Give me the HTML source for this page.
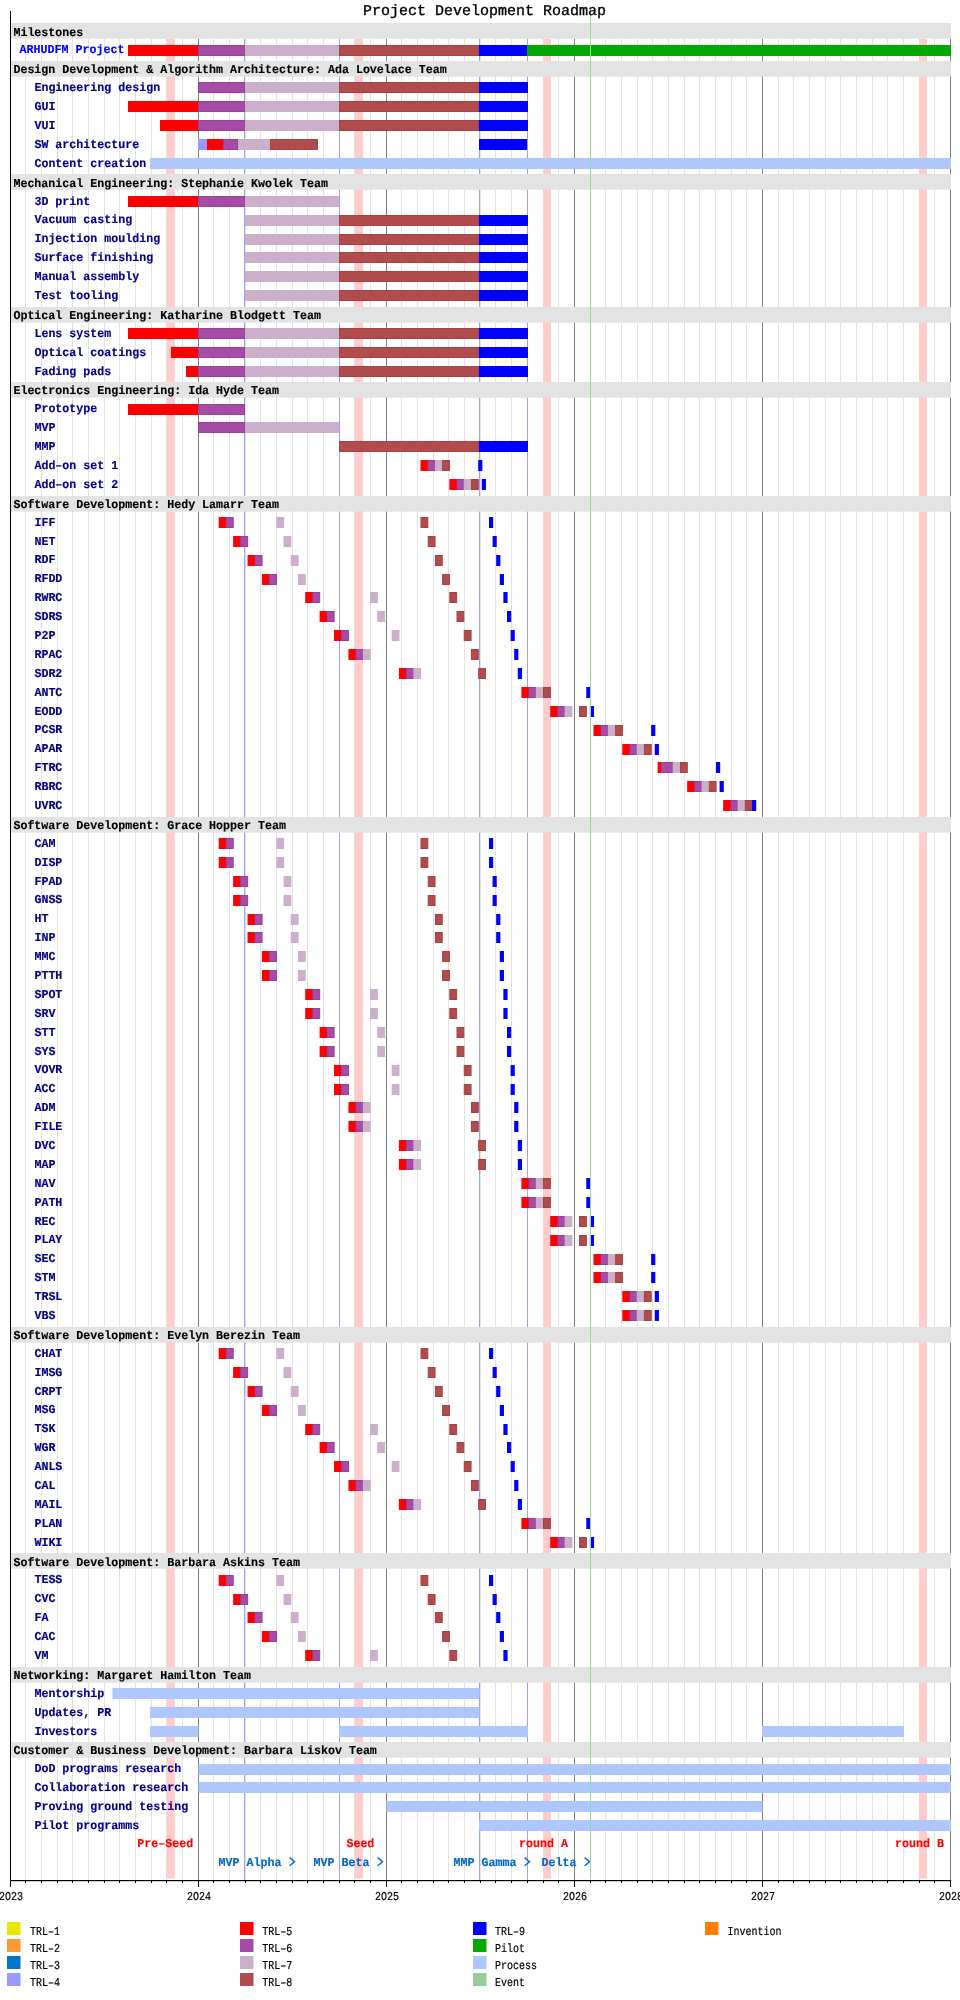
<!DOCTYPE html><html><head><meta charset="utf-8"><style>html,body{margin:0;padding:0;background:#fff;width:960px;height:2000px;overflow:hidden}svg{display:block;will-change:transform;text-rendering:geometricPrecision}text{font-family:"Liberation Mono",monospace}</style></head><body>
<svg width="960" height="2000" viewBox="0 0 960 2000">
<rect x="0" y="0" width="960" height="2000" fill="#fff"/>
<rect x="25" y="38.70" width="1" height="1841.30" fill="#e2e2e2"/><rect x="41" y="38.70" width="1" height="1841.30" fill="#e2e2e2"/><rect x="57" y="38.70" width="1" height="1841.30" fill="#e2e2e2"/><rect x="72" y="38.70" width="1" height="1841.30" fill="#e2e2e2"/><rect x="88" y="38.70" width="1" height="1841.30" fill="#e2e2e2"/><rect x="104" y="38.70" width="1" height="1841.30" fill="#e2e2e2"/><rect x="119" y="38.70" width="1" height="1841.30" fill="#e2e2e2"/><rect x="135" y="38.70" width="1" height="1841.30" fill="#e2e2e2"/><rect x="151" y="38.70" width="1" height="1841.30" fill="#e2e2e2"/><rect x="166" y="38.70" width="1" height="1841.30" fill="#e2e2e2"/><rect x="182" y="38.70" width="1" height="1841.30" fill="#e2e2e2"/><rect x="213" y="38.70" width="1" height="1841.30" fill="#e2e2e2"/><rect x="229" y="38.70" width="1" height="1841.30" fill="#e2e2e2"/><rect x="245" y="38.70" width="1" height="1841.30" fill="#e2e2e2"/><rect x="260" y="38.70" width="1" height="1841.30" fill="#e2e2e2"/><rect x="276" y="38.70" width="1" height="1841.30" fill="#e2e2e2"/><rect x="292" y="38.70" width="1" height="1841.30" fill="#e2e2e2"/><rect x="307" y="38.70" width="1" height="1841.30" fill="#e2e2e2"/><rect x="323" y="38.70" width="1" height="1841.30" fill="#e2e2e2"/><rect x="339" y="38.70" width="1" height="1841.30" fill="#e2e2e2"/><rect x="354" y="38.70" width="1" height="1841.30" fill="#e2e2e2"/><rect x="370" y="38.70" width="1" height="1841.30" fill="#e2e2e2"/><rect x="401" y="38.70" width="1" height="1841.30" fill="#e2e2e2"/><rect x="417" y="38.70" width="1" height="1841.30" fill="#e2e2e2"/><rect x="433" y="38.70" width="1" height="1841.30" fill="#e2e2e2"/><rect x="448" y="38.70" width="1" height="1841.30" fill="#e2e2e2"/><rect x="464" y="38.70" width="1" height="1841.30" fill="#e2e2e2"/><rect x="480" y="38.70" width="1" height="1841.30" fill="#e2e2e2"/><rect x="495" y="38.70" width="1" height="1841.30" fill="#e2e2e2"/><rect x="511" y="38.70" width="1" height="1841.30" fill="#e2e2e2"/><rect x="527" y="38.70" width="1" height="1841.30" fill="#e2e2e2"/><rect x="543" y="38.70" width="1" height="1841.30" fill="#e2e2e2"/><rect x="558" y="38.70" width="1" height="1841.30" fill="#e2e2e2"/><rect x="590" y="38.70" width="1" height="1841.30" fill="#e2e2e2"/><rect x="605" y="38.70" width="1" height="1841.30" fill="#e2e2e2"/><rect x="621" y="38.70" width="1" height="1841.30" fill="#e2e2e2"/><rect x="637" y="38.70" width="1" height="1841.30" fill="#e2e2e2"/><rect x="652" y="38.70" width="1" height="1841.30" fill="#e2e2e2"/><rect x="668" y="38.70" width="1" height="1841.30" fill="#e2e2e2"/><rect x="684" y="38.70" width="1" height="1841.30" fill="#e2e2e2"/><rect x="699" y="38.70" width="1" height="1841.30" fill="#e2e2e2"/><rect x="715" y="38.70" width="1" height="1841.30" fill="#e2e2e2"/><rect x="731" y="38.70" width="1" height="1841.30" fill="#e2e2e2"/><rect x="746" y="38.70" width="1" height="1841.30" fill="#e2e2e2"/><rect x="778" y="38.70" width="1" height="1841.30" fill="#e2e2e2"/><rect x="793" y="38.70" width="1" height="1841.30" fill="#e2e2e2"/><rect x="809" y="38.70" width="1" height="1841.30" fill="#e2e2e2"/><rect x="825" y="38.70" width="1" height="1841.30" fill="#e2e2e2"/><rect x="840" y="38.70" width="1" height="1841.30" fill="#e2e2e2"/><rect x="856" y="38.70" width="1" height="1841.30" fill="#e2e2e2"/><rect x="872" y="38.70" width="1" height="1841.30" fill="#e2e2e2"/><rect x="887" y="38.70" width="1" height="1841.30" fill="#e2e2e2"/><rect x="903" y="38.70" width="1" height="1841.30" fill="#e2e2e2"/><rect x="919" y="38.70" width="1" height="1841.30" fill="#e2e2e2"/><rect x="934" y="38.70" width="1" height="1841.30" fill="#e2e2e2"/>
<rect x="167" y="38.70" width="7.800000000000011" height="1839.80" fill="#ffcccc"/>
<rect x="355" y="38.70" width="8" height="1839.80" fill="#ffcccc"/>
<rect x="543.2" y="38.70" width="7.7999999999999545" height="1839.80" fill="#ffcccc"/>
<rect x="919" y="38.70" width="8" height="1839.80" fill="#ffcccc"/>
<rect x="198" y="38.70" width="1" height="1841.30" fill="#808080"/>
<rect x="386" y="38.70" width="1" height="1841.30" fill="#808080"/>
<rect x="574" y="38.70" width="1" height="1841.30" fill="#808080"/>
<rect x="762" y="38.70" width="1" height="1841.30" fill="#808080"/>
<rect x="950" y="38.70" width="1" height="1841.30" fill="#808080"/>
<rect x="950" y="38.70" width="1" height="1841.30" fill="#808080"/>
<rect x="244" y="38.70" width="1" height="1841.30" fill="#9e9eff"/>
<rect x="339" y="38.70" width="1" height="1841.30" fill="#9e9eff"/>
<rect x="479" y="38.70" width="1" height="1841.30" fill="#9e9eff"/>
<rect x="527" y="38.70" width="1" height="1841.30" fill="#9e9eff"/>
<rect x="11" y="23" width="940" height="15.7" fill="#e3e3e3"/>
<rect x="11" y="61" width="940" height="15.7" fill="#e3e3e3"/>
<rect x="11" y="174" width="940" height="15.7" fill="#e3e3e3"/>
<rect x="11" y="307" width="940" height="15.7" fill="#e3e3e3"/>
<rect x="11" y="382" width="940" height="15.7" fill="#e3e3e3"/>
<rect x="11" y="496" width="940" height="15.7" fill="#e3e3e3"/>
<rect x="11" y="817" width="940" height="15.7" fill="#e3e3e3"/>
<rect x="11" y="1327" width="940" height="15.7" fill="#e3e3e3"/>
<rect x="11" y="1553" width="940" height="15.7" fill="#e3e3e3"/>
<rect x="11" y="1667" width="940" height="15.7" fill="#e3e3e3"/>
<rect x="11" y="1742" width="940" height="15.7" fill="#e3e3e3"/>
<rect x="128.00" y="45" width="70.00" height="11" fill="#ff0000"/>
<rect x="198.50" y="45.5" width="46.00" height="10" fill="#a64ca6" stroke="#9a3f9a" stroke-width="1"/>
<rect x="245.00" y="45" width="94.00" height="11" fill="#cbafcb"/>
<rect x="339.50" y="45.5" width="139.00" height="10" fill="#b04c4c" stroke="#a84242" stroke-width="1"/>
<rect x="479.00" y="45" width="48.00" height="11" fill="#0000ff"/>
<rect x="527.00" y="45" width="424.00" height="11" fill="#00aa00"/>
<rect x="198.50" y="82.5" width="46.00" height="10" fill="#a64ca6" stroke="#9a3f9a" stroke-width="1"/>
<rect x="245.00" y="82" width="94.00" height="11" fill="#cbafcb"/>
<rect x="339.50" y="82.5" width="139.00" height="10" fill="#b04c4c" stroke="#a84242" stroke-width="1"/>
<rect x="479.00" y="82" width="49.00" height="11" fill="#0000ff"/>
<rect x="128.00" y="101" width="70.00" height="11" fill="#ff0000"/>
<rect x="198.50" y="101.5" width="46.00" height="10" fill="#a64ca6" stroke="#9a3f9a" stroke-width="1"/>
<rect x="245.00" y="101" width="94.00" height="11" fill="#cbafcb"/>
<rect x="339.50" y="101.5" width="139.00" height="10" fill="#b04c4c" stroke="#a84242" stroke-width="1"/>
<rect x="479.00" y="101" width="49.00" height="11" fill="#0000ff"/>
<rect x="160.00" y="120" width="38.00" height="11" fill="#ff0000"/>
<rect x="198.50" y="120.5" width="46.00" height="10" fill="#a64ca6" stroke="#9a3f9a" stroke-width="1"/>
<rect x="245.00" y="120" width="94.00" height="11" fill="#cbafcb"/>
<rect x="339.50" y="120.5" width="139.00" height="10" fill="#b04c4c" stroke="#a84242" stroke-width="1"/>
<rect x="479.00" y="120" width="49.00" height="11" fill="#0000ff"/>
<rect x="198.00" y="139" width="9.00" height="11" fill="#9999ff"/>
<rect x="207.00" y="139" width="16.00" height="11" fill="#ff0000"/>
<rect x="223.50" y="139.5" width="14.00" height="10" fill="#a64ca6" stroke="#9a3f9a" stroke-width="1"/>
<rect x="238.00" y="139" width="32.00" height="11" fill="#cbafcb"/>
<rect x="270.50" y="139.5" width="47.00" height="10" fill="#b04c4c" stroke="#a84242" stroke-width="1"/>
<rect x="479.00" y="139" width="48.00" height="11" fill="#0000ff"/>
<rect x="150.00" y="158" width="801.00" height="11" fill="#aec8ff"/>
<rect x="128.00" y="196" width="70.00" height="11" fill="#ff0000"/>
<rect x="198.50" y="196.5" width="46.00" height="10" fill="#a64ca6" stroke="#9a3f9a" stroke-width="1"/>
<rect x="245.00" y="196" width="94.00" height="11" fill="#cbafcb"/>
<rect x="245.00" y="215" width="94.00" height="11" fill="#cbafcb"/>
<rect x="339.50" y="215.5" width="139.00" height="10" fill="#b04c4c" stroke="#a84242" stroke-width="1"/>
<rect x="479.00" y="215" width="49.00" height="11" fill="#0000ff"/>
<rect x="245.00" y="234" width="94.00" height="11" fill="#cbafcb"/>
<rect x="339.50" y="234.5" width="139.00" height="10" fill="#b04c4c" stroke="#a84242" stroke-width="1"/>
<rect x="479.00" y="234" width="49.00" height="11" fill="#0000ff"/>
<rect x="245.00" y="252" width="94.00" height="11" fill="#cbafcb"/>
<rect x="339.50" y="252.5" width="139.00" height="10" fill="#b04c4c" stroke="#a84242" stroke-width="1"/>
<rect x="479.00" y="252" width="49.00" height="11" fill="#0000ff"/>
<rect x="245.00" y="271" width="94.00" height="11" fill="#cbafcb"/>
<rect x="339.50" y="271.5" width="139.00" height="10" fill="#b04c4c" stroke="#a84242" stroke-width="1"/>
<rect x="479.00" y="271" width="49.00" height="11" fill="#0000ff"/>
<rect x="245.00" y="290" width="94.00" height="11" fill="#cbafcb"/>
<rect x="339.50" y="290.5" width="139.00" height="10" fill="#b04c4c" stroke="#a84242" stroke-width="1"/>
<rect x="479.00" y="290" width="49.00" height="11" fill="#0000ff"/>
<rect x="128.00" y="328" width="70.00" height="11" fill="#ff0000"/>
<rect x="198.50" y="328.5" width="46.00" height="10" fill="#a64ca6" stroke="#9a3f9a" stroke-width="1"/>
<rect x="245.00" y="328" width="94.00" height="11" fill="#cbafcb"/>
<rect x="339.50" y="328.5" width="139.00" height="10" fill="#b04c4c" stroke="#a84242" stroke-width="1"/>
<rect x="479.00" y="328" width="49.00" height="11" fill="#0000ff"/>
<rect x="171.00" y="347" width="27.00" height="11" fill="#ff0000"/>
<rect x="198.50" y="347.5" width="46.00" height="10" fill="#a64ca6" stroke="#9a3f9a" stroke-width="1"/>
<rect x="245.00" y="347" width="94.00" height="11" fill="#cbafcb"/>
<rect x="339.50" y="347.5" width="139.00" height="10" fill="#b04c4c" stroke="#a84242" stroke-width="1"/>
<rect x="479.00" y="347" width="49.00" height="11" fill="#0000ff"/>
<rect x="186.00" y="366" width="12.00" height="11" fill="#ff0000"/>
<rect x="198.50" y="366.5" width="46.00" height="10" fill="#a64ca6" stroke="#9a3f9a" stroke-width="1"/>
<rect x="245.00" y="366" width="94.00" height="11" fill="#cbafcb"/>
<rect x="339.50" y="366.5" width="139.00" height="10" fill="#b04c4c" stroke="#a84242" stroke-width="1"/>
<rect x="479.00" y="366" width="49.00" height="11" fill="#0000ff"/>
<rect x="128.00" y="404" width="70.00" height="11" fill="#ff0000"/>
<rect x="198.50" y="404.5" width="46.00" height="10" fill="#a64ca6" stroke="#9a3f9a" stroke-width="1"/>
<rect x="198.50" y="422.5" width="46.00" height="10" fill="#a64ca6" stroke="#9a3f9a" stroke-width="1"/>
<rect x="245.00" y="422" width="94.00" height="11" fill="#cbafcb"/>
<rect x="339.50" y="441.5" width="139.00" height="10" fill="#b04c4c" stroke="#a84242" stroke-width="1"/>
<rect x="479.00" y="441" width="49.00" height="11" fill="#0000ff"/>
<rect x="420.50" y="460" width="7.81" height="11" fill="#ff0000"/>
<rect x="428.21" y="460.5" width="6.81" height="10" fill="#a64ca6" stroke="#9a3f9a" stroke-width="1"/>
<rect x="434.91" y="460" width="7.81" height="11" fill="#cbafcb"/>
<rect x="442.62" y="460.5" width="6.81" height="10" fill="#b04c4c" stroke="#a84242" stroke-width="1"/>
<rect x="478.16" y="460" width="4.20" height="11" fill="#0000ff"/>
<rect x="449.33" y="479" width="7.81" height="11" fill="#ff0000"/>
<rect x="457.03" y="479.5" width="6.81" height="10" fill="#a64ca6" stroke="#9a3f9a" stroke-width="1"/>
<rect x="463.74" y="479" width="7.81" height="11" fill="#cbafcb"/>
<rect x="471.45" y="479.5" width="6.81" height="10" fill="#b04c4c" stroke="#a84242" stroke-width="1"/>
<rect x="481.76" y="479" width="4.20" height="11" fill="#0000ff"/>
<rect x="112.50" y="1688" width="367.00" height="11" fill="#aec8ff"/>
<rect x="150.00" y="1707" width="329.50" height="11" fill="#aec8ff"/>
<rect x="150.00" y="1726" width="48.50" height="11" fill="#aec8ff"/>
<rect x="339.00" y="1726" width="189.00" height="11" fill="#aec8ff"/>
<rect x="762.00" y="1726" width="142.00" height="11" fill="#aec8ff"/>
<rect x="198.50" y="1764" width="752.50" height="11" fill="#aec8ff"/>
<rect x="198.50" y="1782" width="752.50" height="11" fill="#aec8ff"/>
<rect x="386.50" y="1801" width="376.00" height="11" fill="#aec8ff"/>
<rect x="479.00" y="1820" width="472.00" height="11" fill="#aec8ff"/>
<rect x="218.70" y="517" width="7.81" height="11" fill="#ff0000"/>
<rect x="226.41" y="517.5" width="6.81" height="10" fill="#a64ca6" stroke="#9a3f9a" stroke-width="1"/>
<rect x="276.36" y="517" width="7.81" height="11" fill="#cbafcb"/>
<rect x="421.00" y="517.5" width="6.81" height="10" fill="#b04c4c" stroke="#a84242" stroke-width="1"/>
<rect x="488.97" y="517" width="4.20" height="11" fill="#0000ff"/>
<rect x="233.12" y="536" width="7.81" height="11" fill="#ff0000"/>
<rect x="240.82" y="536.5" width="6.81" height="10" fill="#a64ca6" stroke="#9a3f9a" stroke-width="1"/>
<rect x="283.57" y="536" width="7.81" height="11" fill="#cbafcb"/>
<rect x="428.21" y="536.5" width="6.81" height="10" fill="#b04c4c" stroke="#a84242" stroke-width="1"/>
<rect x="492.57" y="536" width="4.20" height="11" fill="#0000ff"/>
<rect x="247.53" y="555" width="7.81" height="11" fill="#ff0000"/>
<rect x="255.24" y="555.5" width="6.81" height="10" fill="#a64ca6" stroke="#9a3f9a" stroke-width="1"/>
<rect x="290.77" y="555" width="7.81" height="11" fill="#cbafcb"/>
<rect x="435.41" y="555.5" width="6.81" height="10" fill="#b04c4c" stroke="#a84242" stroke-width="1"/>
<rect x="496.17" y="555" width="4.20" height="11" fill="#0000ff"/>
<rect x="261.95" y="574" width="7.81" height="11" fill="#ff0000"/>
<rect x="269.65" y="574.5" width="6.81" height="10" fill="#a64ca6" stroke="#9a3f9a" stroke-width="1"/>
<rect x="297.98" y="574" width="7.81" height="11" fill="#cbafcb"/>
<rect x="442.62" y="574.5" width="6.81" height="10" fill="#b04c4c" stroke="#a84242" stroke-width="1"/>
<rect x="499.78" y="574" width="4.20" height="11" fill="#0000ff"/>
<rect x="305.19" y="592" width="7.81" height="11" fill="#ff0000"/>
<rect x="312.89" y="592.5" width="6.81" height="10" fill="#a64ca6" stroke="#9a3f9a" stroke-width="1"/>
<rect x="370.05" y="592" width="7.81" height="11" fill="#cbafcb"/>
<rect x="449.83" y="592.5" width="6.81" height="10" fill="#b04c4c" stroke="#a84242" stroke-width="1"/>
<rect x="503.38" y="592" width="4.20" height="11" fill="#0000ff"/>
<rect x="319.60" y="611" width="7.81" height="11" fill="#ff0000"/>
<rect x="327.31" y="611.5" width="6.81" height="10" fill="#a64ca6" stroke="#9a3f9a" stroke-width="1"/>
<rect x="377.26" y="611" width="7.81" height="11" fill="#cbafcb"/>
<rect x="457.03" y="611.5" width="6.81" height="10" fill="#b04c4c" stroke="#a84242" stroke-width="1"/>
<rect x="506.98" y="611" width="4.20" height="11" fill="#0000ff"/>
<rect x="334.02" y="630" width="7.81" height="11" fill="#ff0000"/>
<rect x="341.72" y="630.5" width="6.81" height="10" fill="#a64ca6" stroke="#9a3f9a" stroke-width="1"/>
<rect x="391.67" y="630" width="7.81" height="11" fill="#cbafcb"/>
<rect x="464.24" y="630.5" width="6.81" height="10" fill="#b04c4c" stroke="#a84242" stroke-width="1"/>
<rect x="510.59" y="630" width="4.20" height="11" fill="#0000ff"/>
<rect x="348.43" y="649" width="7.81" height="11" fill="#ff0000"/>
<rect x="356.14" y="649.5" width="6.81" height="10" fill="#a64ca6" stroke="#9a3f9a" stroke-width="1"/>
<rect x="362.84" y="649" width="7.81" height="11" fill="#cbafcb"/>
<rect x="471.45" y="649.5" width="6.81" height="10" fill="#b04c4c" stroke="#a84242" stroke-width="1"/>
<rect x="514.19" y="649" width="4.20" height="11" fill="#0000ff"/>
<rect x="398.88" y="668" width="7.81" height="11" fill="#ff0000"/>
<rect x="406.59" y="668.5" width="6.81" height="10" fill="#a64ca6" stroke="#9a3f9a" stroke-width="1"/>
<rect x="413.29" y="668" width="7.81" height="11" fill="#cbafcb"/>
<rect x="478.66" y="668.5" width="6.81" height="10" fill="#b04c4c" stroke="#a84242" stroke-width="1"/>
<rect x="517.79" y="668" width="4.20" height="11" fill="#0000ff"/>
<rect x="521.40" y="687" width="7.81" height="11" fill="#ff0000"/>
<rect x="529.10" y="687.5" width="6.81" height="10" fill="#a64ca6" stroke="#9a3f9a" stroke-width="1"/>
<rect x="535.81" y="687" width="7.81" height="11" fill="#cbafcb"/>
<rect x="543.52" y="687.5" width="6.81" height="10" fill="#b04c4c" stroke="#a84242" stroke-width="1"/>
<rect x="586.26" y="687" width="4.20" height="11" fill="#0000ff"/>
<rect x="550.23" y="706" width="7.81" height="11" fill="#ff0000"/>
<rect x="557.93" y="706.5" width="6.81" height="10" fill="#a64ca6" stroke="#9a3f9a" stroke-width="1"/>
<rect x="564.64" y="706" width="7.81" height="11" fill="#cbafcb"/>
<rect x="579.55" y="706.5" width="6.81" height="10" fill="#b04c4c" stroke="#a84242" stroke-width="1"/>
<rect x="589.86" y="706" width="4.20" height="11" fill="#0000ff"/>
<rect x="593.47" y="725" width="7.81" height="11" fill="#ff0000"/>
<rect x="601.17" y="725.5" width="6.81" height="10" fill="#a64ca6" stroke="#9a3f9a" stroke-width="1"/>
<rect x="607.88" y="725" width="7.81" height="11" fill="#cbafcb"/>
<rect x="615.59" y="725.5" width="6.81" height="10" fill="#b04c4c" stroke="#a84242" stroke-width="1"/>
<rect x="651.12" y="725" width="4.20" height="11" fill="#0000ff"/>
<rect x="622.30" y="744" width="7.81" height="11" fill="#ff0000"/>
<rect x="630.00" y="744.5" width="6.81" height="10" fill="#a64ca6" stroke="#9a3f9a" stroke-width="1"/>
<rect x="636.71" y="744" width="7.81" height="11" fill="#cbafcb"/>
<rect x="644.42" y="744.5" width="6.81" height="10" fill="#b04c4c" stroke="#a84242" stroke-width="1"/>
<rect x="654.73" y="744" width="4.20" height="11" fill="#0000ff"/>
<rect x="657.61" y="762" width="4.20" height="11" fill="#ff0000"/>
<rect x="661.71" y="762.5" width="11.13" height="10" fill="#a64ca6" stroke="#9a3f9a" stroke-width="1"/>
<rect x="672.74" y="762" width="7.81" height="11" fill="#cbafcb"/>
<rect x="680.45" y="762.5" width="6.81" height="10" fill="#b04c4c" stroke="#a84242" stroke-width="1"/>
<rect x="715.99" y="762" width="4.20" height="11" fill="#0000ff"/>
<rect x="687.16" y="781" width="7.81" height="11" fill="#ff0000"/>
<rect x="694.87" y="781.5" width="6.81" height="10" fill="#a64ca6" stroke="#9a3f9a" stroke-width="1"/>
<rect x="701.57" y="781" width="7.81" height="11" fill="#cbafcb"/>
<rect x="709.28" y="781.5" width="6.81" height="10" fill="#b04c4c" stroke="#a84242" stroke-width="1"/>
<rect x="719.59" y="781" width="4.20" height="11" fill="#0000ff"/>
<rect x="723.19" y="800" width="7.81" height="11" fill="#ff0000"/>
<rect x="730.90" y="800.5" width="6.81" height="10" fill="#a64ca6" stroke="#9a3f9a" stroke-width="1"/>
<rect x="737.61" y="800" width="7.81" height="11" fill="#cbafcb"/>
<rect x="745.32" y="800.5" width="6.81" height="10" fill="#b04c4c" stroke="#a84242" stroke-width="1"/>
<rect x="752.02" y="800" width="4.20" height="11" fill="#0000ff"/>
<rect x="218.70" y="838" width="7.81" height="11" fill="#ff0000"/>
<rect x="226.41" y="838.5" width="6.81" height="10" fill="#a64ca6" stroke="#9a3f9a" stroke-width="1"/>
<rect x="276.36" y="838" width="7.81" height="11" fill="#cbafcb"/>
<rect x="421.00" y="838.5" width="6.81" height="10" fill="#b04c4c" stroke="#a84242" stroke-width="1"/>
<rect x="488.97" y="838" width="4.20" height="11" fill="#0000ff"/>
<rect x="218.70" y="857" width="7.81" height="11" fill="#ff0000"/>
<rect x="226.41" y="857.5" width="6.81" height="10" fill="#a64ca6" stroke="#9a3f9a" stroke-width="1"/>
<rect x="276.36" y="857" width="7.81" height="11" fill="#cbafcb"/>
<rect x="421.00" y="857.5" width="6.81" height="10" fill="#b04c4c" stroke="#a84242" stroke-width="1"/>
<rect x="488.97" y="857" width="4.20" height="11" fill="#0000ff"/>
<rect x="233.12" y="876" width="7.81" height="11" fill="#ff0000"/>
<rect x="240.82" y="876.5" width="6.81" height="10" fill="#a64ca6" stroke="#9a3f9a" stroke-width="1"/>
<rect x="283.57" y="876" width="7.81" height="11" fill="#cbafcb"/>
<rect x="428.21" y="876.5" width="6.81" height="10" fill="#b04c4c" stroke="#a84242" stroke-width="1"/>
<rect x="492.57" y="876" width="4.20" height="11" fill="#0000ff"/>
<rect x="233.12" y="895" width="7.81" height="11" fill="#ff0000"/>
<rect x="240.82" y="895.5" width="6.81" height="10" fill="#a64ca6" stroke="#9a3f9a" stroke-width="1"/>
<rect x="283.57" y="895" width="7.81" height="11" fill="#cbafcb"/>
<rect x="428.21" y="895.5" width="6.81" height="10" fill="#b04c4c" stroke="#a84242" stroke-width="1"/>
<rect x="492.57" y="895" width="4.20" height="11" fill="#0000ff"/>
<rect x="247.53" y="914" width="7.81" height="11" fill="#ff0000"/>
<rect x="255.24" y="914.5" width="6.81" height="10" fill="#a64ca6" stroke="#9a3f9a" stroke-width="1"/>
<rect x="290.77" y="914" width="7.81" height="11" fill="#cbafcb"/>
<rect x="435.41" y="914.5" width="6.81" height="10" fill="#b04c4c" stroke="#a84242" stroke-width="1"/>
<rect x="496.17" y="914" width="4.20" height="11" fill="#0000ff"/>
<rect x="247.53" y="932" width="7.81" height="11" fill="#ff0000"/>
<rect x="255.24" y="932.5" width="6.81" height="10" fill="#a64ca6" stroke="#9a3f9a" stroke-width="1"/>
<rect x="290.77" y="932" width="7.81" height="11" fill="#cbafcb"/>
<rect x="435.41" y="932.5" width="6.81" height="10" fill="#b04c4c" stroke="#a84242" stroke-width="1"/>
<rect x="496.17" y="932" width="4.20" height="11" fill="#0000ff"/>
<rect x="261.95" y="951" width="7.81" height="11" fill="#ff0000"/>
<rect x="269.65" y="951.5" width="6.81" height="10" fill="#a64ca6" stroke="#9a3f9a" stroke-width="1"/>
<rect x="297.98" y="951" width="7.81" height="11" fill="#cbafcb"/>
<rect x="442.62" y="951.5" width="6.81" height="10" fill="#b04c4c" stroke="#a84242" stroke-width="1"/>
<rect x="499.78" y="951" width="4.20" height="11" fill="#0000ff"/>
<rect x="261.95" y="970" width="7.81" height="11" fill="#ff0000"/>
<rect x="269.65" y="970.5" width="6.81" height="10" fill="#a64ca6" stroke="#9a3f9a" stroke-width="1"/>
<rect x="297.98" y="970" width="7.81" height="11" fill="#cbafcb"/>
<rect x="442.62" y="970.5" width="6.81" height="10" fill="#b04c4c" stroke="#a84242" stroke-width="1"/>
<rect x="499.78" y="970" width="4.20" height="11" fill="#0000ff"/>
<rect x="305.19" y="989" width="7.81" height="11" fill="#ff0000"/>
<rect x="312.89" y="989.5" width="6.81" height="10" fill="#a64ca6" stroke="#9a3f9a" stroke-width="1"/>
<rect x="370.05" y="989" width="7.81" height="11" fill="#cbafcb"/>
<rect x="449.83" y="989.5" width="6.81" height="10" fill="#b04c4c" stroke="#a84242" stroke-width="1"/>
<rect x="503.38" y="989" width="4.20" height="11" fill="#0000ff"/>
<rect x="305.19" y="1008" width="7.81" height="11" fill="#ff0000"/>
<rect x="312.89" y="1008.5" width="6.81" height="10" fill="#a64ca6" stroke="#9a3f9a" stroke-width="1"/>
<rect x="370.05" y="1008" width="7.81" height="11" fill="#cbafcb"/>
<rect x="449.83" y="1008.5" width="6.81" height="10" fill="#b04c4c" stroke="#a84242" stroke-width="1"/>
<rect x="503.38" y="1008" width="4.20" height="11" fill="#0000ff"/>
<rect x="319.60" y="1027" width="7.81" height="11" fill="#ff0000"/>
<rect x="327.31" y="1027.5" width="6.81" height="10" fill="#a64ca6" stroke="#9a3f9a" stroke-width="1"/>
<rect x="377.26" y="1027" width="7.81" height="11" fill="#cbafcb"/>
<rect x="457.03" y="1027.5" width="6.81" height="10" fill="#b04c4c" stroke="#a84242" stroke-width="1"/>
<rect x="506.98" y="1027" width="4.20" height="11" fill="#0000ff"/>
<rect x="319.60" y="1046" width="7.81" height="11" fill="#ff0000"/>
<rect x="327.31" y="1046.5" width="6.81" height="10" fill="#a64ca6" stroke="#9a3f9a" stroke-width="1"/>
<rect x="377.26" y="1046" width="7.81" height="11" fill="#cbafcb"/>
<rect x="457.03" y="1046.5" width="6.81" height="10" fill="#b04c4c" stroke="#a84242" stroke-width="1"/>
<rect x="506.98" y="1046" width="4.20" height="11" fill="#0000ff"/>
<rect x="334.02" y="1065" width="7.81" height="11" fill="#ff0000"/>
<rect x="341.72" y="1065.5" width="6.81" height="10" fill="#a64ca6" stroke="#9a3f9a" stroke-width="1"/>
<rect x="391.67" y="1065" width="7.81" height="11" fill="#cbafcb"/>
<rect x="464.24" y="1065.5" width="6.81" height="10" fill="#b04c4c" stroke="#a84242" stroke-width="1"/>
<rect x="510.59" y="1065" width="4.20" height="11" fill="#0000ff"/>
<rect x="334.02" y="1084" width="7.81" height="11" fill="#ff0000"/>
<rect x="341.72" y="1084.5" width="6.81" height="10" fill="#a64ca6" stroke="#9a3f9a" stroke-width="1"/>
<rect x="391.67" y="1084" width="7.81" height="11" fill="#cbafcb"/>
<rect x="464.24" y="1084.5" width="6.81" height="10" fill="#b04c4c" stroke="#a84242" stroke-width="1"/>
<rect x="510.59" y="1084" width="4.20" height="11" fill="#0000ff"/>
<rect x="348.43" y="1102" width="7.81" height="11" fill="#ff0000"/>
<rect x="356.14" y="1102.5" width="6.81" height="10" fill="#a64ca6" stroke="#9a3f9a" stroke-width="1"/>
<rect x="362.84" y="1102" width="7.81" height="11" fill="#cbafcb"/>
<rect x="471.45" y="1102.5" width="6.81" height="10" fill="#b04c4c" stroke="#a84242" stroke-width="1"/>
<rect x="514.19" y="1102" width="4.20" height="11" fill="#0000ff"/>
<rect x="348.43" y="1121" width="7.81" height="11" fill="#ff0000"/>
<rect x="356.14" y="1121.5" width="6.81" height="10" fill="#a64ca6" stroke="#9a3f9a" stroke-width="1"/>
<rect x="362.84" y="1121" width="7.81" height="11" fill="#cbafcb"/>
<rect x="471.45" y="1121.5" width="6.81" height="10" fill="#b04c4c" stroke="#a84242" stroke-width="1"/>
<rect x="514.19" y="1121" width="4.20" height="11" fill="#0000ff"/>
<rect x="398.88" y="1140" width="7.81" height="11" fill="#ff0000"/>
<rect x="406.59" y="1140.5" width="6.81" height="10" fill="#a64ca6" stroke="#9a3f9a" stroke-width="1"/>
<rect x="413.29" y="1140" width="7.81" height="11" fill="#cbafcb"/>
<rect x="478.66" y="1140.5" width="6.81" height="10" fill="#b04c4c" stroke="#a84242" stroke-width="1"/>
<rect x="517.79" y="1140" width="4.20" height="11" fill="#0000ff"/>
<rect x="398.88" y="1159" width="7.81" height="11" fill="#ff0000"/>
<rect x="406.59" y="1159.5" width="6.81" height="10" fill="#a64ca6" stroke="#9a3f9a" stroke-width="1"/>
<rect x="413.29" y="1159" width="7.81" height="11" fill="#cbafcb"/>
<rect x="478.66" y="1159.5" width="6.81" height="10" fill="#b04c4c" stroke="#a84242" stroke-width="1"/>
<rect x="517.79" y="1159" width="4.20" height="11" fill="#0000ff"/>
<rect x="521.40" y="1178" width="7.81" height="11" fill="#ff0000"/>
<rect x="529.10" y="1178.5" width="6.81" height="10" fill="#a64ca6" stroke="#9a3f9a" stroke-width="1"/>
<rect x="535.81" y="1178" width="7.81" height="11" fill="#cbafcb"/>
<rect x="543.52" y="1178.5" width="6.81" height="10" fill="#b04c4c" stroke="#a84242" stroke-width="1"/>
<rect x="586.26" y="1178" width="4.20" height="11" fill="#0000ff"/>
<rect x="521.40" y="1197" width="7.81" height="11" fill="#ff0000"/>
<rect x="529.10" y="1197.5" width="6.81" height="10" fill="#a64ca6" stroke="#9a3f9a" stroke-width="1"/>
<rect x="535.81" y="1197" width="7.81" height="11" fill="#cbafcb"/>
<rect x="543.52" y="1197.5" width="6.81" height="10" fill="#b04c4c" stroke="#a84242" stroke-width="1"/>
<rect x="586.26" y="1197" width="4.20" height="11" fill="#0000ff"/>
<rect x="550.23" y="1216" width="7.81" height="11" fill="#ff0000"/>
<rect x="557.93" y="1216.5" width="6.81" height="10" fill="#a64ca6" stroke="#9a3f9a" stroke-width="1"/>
<rect x="564.64" y="1216" width="7.81" height="11" fill="#cbafcb"/>
<rect x="579.55" y="1216.5" width="6.81" height="10" fill="#b04c4c" stroke="#a84242" stroke-width="1"/>
<rect x="589.86" y="1216" width="4.20" height="11" fill="#0000ff"/>
<rect x="550.23" y="1235" width="7.81" height="11" fill="#ff0000"/>
<rect x="557.93" y="1235.5" width="6.81" height="10" fill="#a64ca6" stroke="#9a3f9a" stroke-width="1"/>
<rect x="564.64" y="1235" width="7.81" height="11" fill="#cbafcb"/>
<rect x="579.55" y="1235.5" width="6.81" height="10" fill="#b04c4c" stroke="#a84242" stroke-width="1"/>
<rect x="589.86" y="1235" width="4.20" height="11" fill="#0000ff"/>
<rect x="593.47" y="1254" width="7.81" height="11" fill="#ff0000"/>
<rect x="601.17" y="1254.5" width="6.81" height="10" fill="#a64ca6" stroke="#9a3f9a" stroke-width="1"/>
<rect x="607.88" y="1254" width="7.81" height="11" fill="#cbafcb"/>
<rect x="615.59" y="1254.5" width="6.81" height="10" fill="#b04c4c" stroke="#a84242" stroke-width="1"/>
<rect x="651.12" y="1254" width="4.20" height="11" fill="#0000ff"/>
<rect x="593.47" y="1272" width="7.81" height="11" fill="#ff0000"/>
<rect x="601.17" y="1272.5" width="6.81" height="10" fill="#a64ca6" stroke="#9a3f9a" stroke-width="1"/>
<rect x="607.88" y="1272" width="7.81" height="11" fill="#cbafcb"/>
<rect x="615.59" y="1272.5" width="6.81" height="10" fill="#b04c4c" stroke="#a84242" stroke-width="1"/>
<rect x="651.12" y="1272" width="4.20" height="11" fill="#0000ff"/>
<rect x="622.30" y="1291" width="7.81" height="11" fill="#ff0000"/>
<rect x="630.00" y="1291.5" width="6.81" height="10" fill="#a64ca6" stroke="#9a3f9a" stroke-width="1"/>
<rect x="636.71" y="1291" width="7.81" height="11" fill="#cbafcb"/>
<rect x="644.42" y="1291.5" width="6.81" height="10" fill="#b04c4c" stroke="#a84242" stroke-width="1"/>
<rect x="654.73" y="1291" width="4.20" height="11" fill="#0000ff"/>
<rect x="622.30" y="1310" width="7.81" height="11" fill="#ff0000"/>
<rect x="630.00" y="1310.5" width="6.81" height="10" fill="#a64ca6" stroke="#9a3f9a" stroke-width="1"/>
<rect x="636.71" y="1310" width="7.81" height="11" fill="#cbafcb"/>
<rect x="644.42" y="1310.5" width="6.81" height="10" fill="#b04c4c" stroke="#a84242" stroke-width="1"/>
<rect x="654.73" y="1310" width="4.20" height="11" fill="#0000ff"/>
<rect x="218.70" y="1348" width="7.81" height="11" fill="#ff0000"/>
<rect x="226.41" y="1348.5" width="6.81" height="10" fill="#a64ca6" stroke="#9a3f9a" stroke-width="1"/>
<rect x="276.36" y="1348" width="7.81" height="11" fill="#cbafcb"/>
<rect x="421.00" y="1348.5" width="6.81" height="10" fill="#b04c4c" stroke="#a84242" stroke-width="1"/>
<rect x="488.97" y="1348" width="4.20" height="11" fill="#0000ff"/>
<rect x="233.12" y="1367" width="7.81" height="11" fill="#ff0000"/>
<rect x="240.82" y="1367.5" width="6.81" height="10" fill="#a64ca6" stroke="#9a3f9a" stroke-width="1"/>
<rect x="283.57" y="1367" width="7.81" height="11" fill="#cbafcb"/>
<rect x="428.21" y="1367.5" width="6.81" height="10" fill="#b04c4c" stroke="#a84242" stroke-width="1"/>
<rect x="492.57" y="1367" width="4.20" height="11" fill="#0000ff"/>
<rect x="247.53" y="1386" width="7.81" height="11" fill="#ff0000"/>
<rect x="255.24" y="1386.5" width="6.81" height="10" fill="#a64ca6" stroke="#9a3f9a" stroke-width="1"/>
<rect x="290.77" y="1386" width="7.81" height="11" fill="#cbafcb"/>
<rect x="435.41" y="1386.5" width="6.81" height="10" fill="#b04c4c" stroke="#a84242" stroke-width="1"/>
<rect x="496.17" y="1386" width="4.20" height="11" fill="#0000ff"/>
<rect x="261.95" y="1405" width="7.81" height="11" fill="#ff0000"/>
<rect x="269.65" y="1405.5" width="6.81" height="10" fill="#a64ca6" stroke="#9a3f9a" stroke-width="1"/>
<rect x="297.98" y="1405" width="7.81" height="11" fill="#cbafcb"/>
<rect x="442.62" y="1405.5" width="6.81" height="10" fill="#b04c4c" stroke="#a84242" stroke-width="1"/>
<rect x="499.78" y="1405" width="4.20" height="11" fill="#0000ff"/>
<rect x="305.19" y="1424" width="7.81" height="11" fill="#ff0000"/>
<rect x="312.89" y="1424.5" width="6.81" height="10" fill="#a64ca6" stroke="#9a3f9a" stroke-width="1"/>
<rect x="370.05" y="1424" width="7.81" height="11" fill="#cbafcb"/>
<rect x="449.83" y="1424.5" width="6.81" height="10" fill="#b04c4c" stroke="#a84242" stroke-width="1"/>
<rect x="503.38" y="1424" width="4.20" height="11" fill="#0000ff"/>
<rect x="319.60" y="1442" width="7.81" height="11" fill="#ff0000"/>
<rect x="327.31" y="1442.5" width="6.81" height="10" fill="#a64ca6" stroke="#9a3f9a" stroke-width="1"/>
<rect x="377.26" y="1442" width="7.81" height="11" fill="#cbafcb"/>
<rect x="457.03" y="1442.5" width="6.81" height="10" fill="#b04c4c" stroke="#a84242" stroke-width="1"/>
<rect x="506.98" y="1442" width="4.20" height="11" fill="#0000ff"/>
<rect x="334.02" y="1461" width="7.81" height="11" fill="#ff0000"/>
<rect x="341.72" y="1461.5" width="6.81" height="10" fill="#a64ca6" stroke="#9a3f9a" stroke-width="1"/>
<rect x="391.67" y="1461" width="7.81" height="11" fill="#cbafcb"/>
<rect x="464.24" y="1461.5" width="6.81" height="10" fill="#b04c4c" stroke="#a84242" stroke-width="1"/>
<rect x="510.59" y="1461" width="4.20" height="11" fill="#0000ff"/>
<rect x="348.43" y="1480" width="7.81" height="11" fill="#ff0000"/>
<rect x="356.14" y="1480.5" width="6.81" height="10" fill="#a64ca6" stroke="#9a3f9a" stroke-width="1"/>
<rect x="362.84" y="1480" width="7.81" height="11" fill="#cbafcb"/>
<rect x="471.45" y="1480.5" width="6.81" height="10" fill="#b04c4c" stroke="#a84242" stroke-width="1"/>
<rect x="514.19" y="1480" width="4.20" height="11" fill="#0000ff"/>
<rect x="398.88" y="1499" width="7.81" height="11" fill="#ff0000"/>
<rect x="406.59" y="1499.5" width="6.81" height="10" fill="#a64ca6" stroke="#9a3f9a" stroke-width="1"/>
<rect x="413.29" y="1499" width="7.81" height="11" fill="#cbafcb"/>
<rect x="478.66" y="1499.5" width="6.81" height="10" fill="#b04c4c" stroke="#a84242" stroke-width="1"/>
<rect x="517.79" y="1499" width="4.20" height="11" fill="#0000ff"/>
<rect x="521.40" y="1518" width="7.81" height="11" fill="#ff0000"/>
<rect x="529.10" y="1518.5" width="6.81" height="10" fill="#a64ca6" stroke="#9a3f9a" stroke-width="1"/>
<rect x="535.81" y="1518" width="7.81" height="11" fill="#cbafcb"/>
<rect x="543.52" y="1518.5" width="6.81" height="10" fill="#b04c4c" stroke="#a84242" stroke-width="1"/>
<rect x="586.26" y="1518" width="4.20" height="11" fill="#0000ff"/>
<rect x="550.23" y="1537" width="7.81" height="11" fill="#ff0000"/>
<rect x="557.93" y="1537.5" width="6.81" height="10" fill="#a64ca6" stroke="#9a3f9a" stroke-width="1"/>
<rect x="564.64" y="1537" width="7.81" height="11" fill="#cbafcb"/>
<rect x="579.55" y="1537.5" width="6.81" height="10" fill="#b04c4c" stroke="#a84242" stroke-width="1"/>
<rect x="589.86" y="1537" width="4.20" height="11" fill="#0000ff"/>
<rect x="218.70" y="1575" width="7.81" height="11" fill="#ff0000"/>
<rect x="226.41" y="1575.5" width="6.81" height="10" fill="#a64ca6" stroke="#9a3f9a" stroke-width="1"/>
<rect x="276.36" y="1575" width="7.81" height="11" fill="#cbafcb"/>
<rect x="421.00" y="1575.5" width="6.81" height="10" fill="#b04c4c" stroke="#a84242" stroke-width="1"/>
<rect x="488.97" y="1575" width="4.20" height="11" fill="#0000ff"/>
<rect x="233.12" y="1594" width="7.81" height="11" fill="#ff0000"/>
<rect x="240.82" y="1594.5" width="6.81" height="10" fill="#a64ca6" stroke="#9a3f9a" stroke-width="1"/>
<rect x="283.57" y="1594" width="7.81" height="11" fill="#cbafcb"/>
<rect x="428.21" y="1594.5" width="6.81" height="10" fill="#b04c4c" stroke="#a84242" stroke-width="1"/>
<rect x="492.57" y="1594" width="4.20" height="11" fill="#0000ff"/>
<rect x="247.53" y="1612" width="7.81" height="11" fill="#ff0000"/>
<rect x="255.24" y="1612.5" width="6.81" height="10" fill="#a64ca6" stroke="#9a3f9a" stroke-width="1"/>
<rect x="290.77" y="1612" width="7.81" height="11" fill="#cbafcb"/>
<rect x="435.41" y="1612.5" width="6.81" height="10" fill="#b04c4c" stroke="#a84242" stroke-width="1"/>
<rect x="496.17" y="1612" width="4.20" height="11" fill="#0000ff"/>
<rect x="261.95" y="1631" width="7.81" height="11" fill="#ff0000"/>
<rect x="269.65" y="1631.5" width="6.81" height="10" fill="#a64ca6" stroke="#9a3f9a" stroke-width="1"/>
<rect x="297.98" y="1631" width="7.81" height="11" fill="#cbafcb"/>
<rect x="442.62" y="1631.5" width="6.81" height="10" fill="#b04c4c" stroke="#a84242" stroke-width="1"/>
<rect x="499.78" y="1631" width="4.20" height="11" fill="#0000ff"/>
<rect x="305.19" y="1650" width="7.81" height="11" fill="#ff0000"/>
<rect x="312.89" y="1650.5" width="6.81" height="10" fill="#a64ca6" stroke="#9a3f9a" stroke-width="1"/>
<rect x="370.05" y="1650" width="7.81" height="11" fill="#cbafcb"/>
<rect x="449.83" y="1650.5" width="6.81" height="10" fill="#b04c4c" stroke="#a84242" stroke-width="1"/>
<rect x="503.38" y="1650" width="4.20" height="11" fill="#0000ff"/>
<text transform="translate(13.40,36.00) scale(0.9606,1)" font-size="12.145" font-weight="bold" fill="#000000" stroke="#000000" stroke-width="0.15">Milestones</text>
<text transform="translate(19.60,53.00) scale(0.9606,1)" font-size="12.145" font-weight="bold" fill="#0000ff" stroke="#0000ff" stroke-width="0.15">ARHUDFM Project</text>
<text transform="translate(13.40,73.00) scale(0.9606,1)" font-size="12.145" font-weight="bold" fill="#000000" stroke="#000000" stroke-width="0.15">Design Development &amp; Algorithm Architecture: Ada Lovelace Team</text>
<text transform="translate(34.40,91.00) scale(0.9606,1)" font-size="12.145" font-weight="bold" fill="#00008b" stroke="#00008b" stroke-width="0.15">Engineering design</text>
<text transform="translate(34.40,110.00) scale(0.9606,1)" font-size="12.145" font-weight="bold" fill="#00008b" stroke="#00008b" stroke-width="0.15">GUI</text>
<text transform="translate(34.40,129.00) scale(0.9606,1)" font-size="12.145" font-weight="bold" fill="#00008b" stroke="#00008b" stroke-width="0.15">VUI</text>
<text transform="translate(34.40,148.00) scale(0.9606,1)" font-size="12.145" font-weight="bold" fill="#00008b" stroke="#00008b" stroke-width="0.15">SW architecture</text>
<text transform="translate(34.40,167.00) scale(0.9606,1)" font-size="12.145" font-weight="bold" fill="#00008b" stroke="#00008b" stroke-width="0.15">Content creation</text>
<text transform="translate(13.40,187.00) scale(0.9606,1)" font-size="12.145" font-weight="bold" fill="#000000" stroke="#000000" stroke-width="0.15">Mechanical Engineering: Stephanie Kwolek Team</text>
<text transform="translate(34.40,205.00) scale(0.9606,1)" font-size="12.145" font-weight="bold" fill="#00008b" stroke="#00008b" stroke-width="0.15">3D print</text>
<text transform="translate(34.40,223.00) scale(0.9606,1)" font-size="12.145" font-weight="bold" fill="#00008b" stroke="#00008b" stroke-width="0.15">Vacuum casting</text>
<text transform="translate(34.40,242.00) scale(0.9606,1)" font-size="12.145" font-weight="bold" fill="#00008b" stroke="#00008b" stroke-width="0.15">Injection moulding</text>
<text transform="translate(34.40,261.00) scale(0.9606,1)" font-size="12.145" font-weight="bold" fill="#00008b" stroke="#00008b" stroke-width="0.15">Surface finishing</text>
<text transform="translate(34.40,280.00) scale(0.9606,1)" font-size="12.145" font-weight="bold" fill="#00008b" stroke="#00008b" stroke-width="0.15">Manual assembly</text>
<text transform="translate(34.40,299.00) scale(0.9606,1)" font-size="12.145" font-weight="bold" fill="#00008b" stroke="#00008b" stroke-width="0.15">Test tooling</text>
<text transform="translate(13.40,319.00) scale(0.9606,1)" font-size="12.145" font-weight="bold" fill="#000000" stroke="#000000" stroke-width="0.15">Optical Engineering: Katharine Blodgett Team</text>
<text transform="translate(34.40,337.00) scale(0.9606,1)" font-size="12.145" font-weight="bold" fill="#00008b" stroke="#00008b" stroke-width="0.15">Lens system</text>
<text transform="translate(34.40,356.00) scale(0.9606,1)" font-size="12.145" font-weight="bold" fill="#00008b" stroke="#00008b" stroke-width="0.15">Optical coatings</text>
<text transform="translate(34.40,375.00) scale(0.9606,1)" font-size="12.145" font-weight="bold" fill="#00008b" stroke="#00008b" stroke-width="0.15">Fading pads</text>
<text transform="translate(13.40,394.00) scale(0.9606,1)" font-size="12.145" font-weight="bold" fill="#000000" stroke="#000000" stroke-width="0.15">Electronics Engineering: Ida Hyde Team</text>
<text transform="translate(34.40,412.00) scale(0.9606,1)" font-size="12.145" font-weight="bold" fill="#00008b" stroke="#00008b" stroke-width="0.15">Prototype</text>
<text transform="translate(34.40,431.00) scale(0.9606,1)" font-size="12.145" font-weight="bold" fill="#00008b" stroke="#00008b" stroke-width="0.15">MVP</text>
<text transform="translate(34.40,450.00) scale(0.9606,1)" font-size="12.145" font-weight="bold" fill="#00008b" stroke="#00008b" stroke-width="0.15">MMP</text>
<text transform="translate(34.40,469.00) scale(0.9606,1)" font-size="12.145" font-weight="bold" fill="#00008b" stroke="#00008b" stroke-width="0.15">Add–on set 1</text>
<text transform="translate(34.40,488.00) scale(0.9606,1)" font-size="12.145" font-weight="bold" fill="#00008b" stroke="#00008b" stroke-width="0.15">Add–on set 2</text>
<text transform="translate(13.40,508.00) scale(0.9606,1)" font-size="12.145" font-weight="bold" fill="#000000" stroke="#000000" stroke-width="0.15">Software Development: Hedy Lamarr Team</text>
<text transform="translate(34.40,526.00) scale(0.9606,1)" font-size="12.145" font-weight="bold" fill="#00008b" stroke="#00008b" stroke-width="0.15">IFF</text>
<text transform="translate(34.40,545.00) scale(0.9606,1)" font-size="12.145" font-weight="bold" fill="#00008b" stroke="#00008b" stroke-width="0.15">NET</text>
<text transform="translate(34.40,563.00) scale(0.9606,1)" font-size="12.145" font-weight="bold" fill="#00008b" stroke="#00008b" stroke-width="0.15">RDF</text>
<text transform="translate(34.40,582.00) scale(0.9606,1)" font-size="12.145" font-weight="bold" fill="#00008b" stroke="#00008b" stroke-width="0.15">RFDD</text>
<text transform="translate(34.40,601.00) scale(0.9606,1)" font-size="12.145" font-weight="bold" fill="#00008b" stroke="#00008b" stroke-width="0.15">RWRC</text>
<text transform="translate(34.40,620.00) scale(0.9606,1)" font-size="12.145" font-weight="bold" fill="#00008b" stroke="#00008b" stroke-width="0.15">SDRS</text>
<text transform="translate(34.40,639.00) scale(0.9606,1)" font-size="12.145" font-weight="bold" fill="#00008b" stroke="#00008b" stroke-width="0.15">P2P</text>
<text transform="translate(34.40,658.00) scale(0.9606,1)" font-size="12.145" font-weight="bold" fill="#00008b" stroke="#00008b" stroke-width="0.15">RPAC</text>
<text transform="translate(34.40,677.00) scale(0.9606,1)" font-size="12.145" font-weight="bold" fill="#00008b" stroke="#00008b" stroke-width="0.15">SDR2</text>
<text transform="translate(34.40,696.00) scale(0.9606,1)" font-size="12.145" font-weight="bold" fill="#00008b" stroke="#00008b" stroke-width="0.15">ANTC</text>
<text transform="translate(34.40,715.00) scale(0.9606,1)" font-size="12.145" font-weight="bold" fill="#00008b" stroke="#00008b" stroke-width="0.15">EODD</text>
<text transform="translate(34.40,733.00) scale(0.9606,1)" font-size="12.145" font-weight="bold" fill="#00008b" stroke="#00008b" stroke-width="0.15">PCSR</text>
<text transform="translate(34.40,752.00) scale(0.9606,1)" font-size="12.145" font-weight="bold" fill="#00008b" stroke="#00008b" stroke-width="0.15">APAR</text>
<text transform="translate(34.40,771.00) scale(0.9606,1)" font-size="12.145" font-weight="bold" fill="#00008b" stroke="#00008b" stroke-width="0.15">FTRC</text>
<text transform="translate(34.40,790.00) scale(0.9606,1)" font-size="12.145" font-weight="bold" fill="#00008b" stroke="#00008b" stroke-width="0.15">RBRC</text>
<text transform="translate(34.40,809.00) scale(0.9606,1)" font-size="12.145" font-weight="bold" fill="#00008b" stroke="#00008b" stroke-width="0.15">UVRC</text>
<text transform="translate(13.40,829.00) scale(0.9606,1)" font-size="12.145" font-weight="bold" fill="#000000" stroke="#000000" stroke-width="0.15">Software Development: Grace Hopper Team</text>
<text transform="translate(34.40,847.00) scale(0.9606,1)" font-size="12.145" font-weight="bold" fill="#00008b" stroke="#00008b" stroke-width="0.15">CAM</text>
<text transform="translate(34.40,866.00) scale(0.9606,1)" font-size="12.145" font-weight="bold" fill="#00008b" stroke="#00008b" stroke-width="0.15">DISP</text>
<text transform="translate(34.40,885.00) scale(0.9606,1)" font-size="12.145" font-weight="bold" fill="#00008b" stroke="#00008b" stroke-width="0.15">FPAD</text>
<text transform="translate(34.40,903.00) scale(0.9606,1)" font-size="12.145" font-weight="bold" fill="#00008b" stroke="#00008b" stroke-width="0.15">GNSS</text>
<text transform="translate(34.40,922.00) scale(0.9606,1)" font-size="12.145" font-weight="bold" fill="#00008b" stroke="#00008b" stroke-width="0.15">HT</text>
<text transform="translate(34.40,941.00) scale(0.9606,1)" font-size="12.145" font-weight="bold" fill="#00008b" stroke="#00008b" stroke-width="0.15">INP</text>
<text transform="translate(34.40,960.00) scale(0.9606,1)" font-size="12.145" font-weight="bold" fill="#00008b" stroke="#00008b" stroke-width="0.15">MMC</text>
<text transform="translate(34.40,979.00) scale(0.9606,1)" font-size="12.145" font-weight="bold" fill="#00008b" stroke="#00008b" stroke-width="0.15">PTTH</text>
<text transform="translate(34.40,998.00) scale(0.9606,1)" font-size="12.145" font-weight="bold" fill="#00008b" stroke="#00008b" stroke-width="0.15">SPOT</text>
<text transform="translate(34.40,1017.00) scale(0.9606,1)" font-size="12.145" font-weight="bold" fill="#00008b" stroke="#00008b" stroke-width="0.15">SRV</text>
<text transform="translate(34.40,1036.00) scale(0.9606,1)" font-size="12.145" font-weight="bold" fill="#00008b" stroke="#00008b" stroke-width="0.15">STT</text>
<text transform="translate(34.40,1055.00) scale(0.9606,1)" font-size="12.145" font-weight="bold" fill="#00008b" stroke="#00008b" stroke-width="0.15">SYS</text>
<text transform="translate(34.40,1073.00) scale(0.9606,1)" font-size="12.145" font-weight="bold" fill="#00008b" stroke="#00008b" stroke-width="0.15">VOVR</text>
<text transform="translate(34.40,1092.00) scale(0.9606,1)" font-size="12.145" font-weight="bold" fill="#00008b" stroke="#00008b" stroke-width="0.15">ACC</text>
<text transform="translate(34.40,1111.00) scale(0.9606,1)" font-size="12.145" font-weight="bold" fill="#00008b" stroke="#00008b" stroke-width="0.15">ADM</text>
<text transform="translate(34.40,1130.00) scale(0.9606,1)" font-size="12.145" font-weight="bold" fill="#00008b" stroke="#00008b" stroke-width="0.15">FILE</text>
<text transform="translate(34.40,1149.00) scale(0.9606,1)" font-size="12.145" font-weight="bold" fill="#00008b" stroke="#00008b" stroke-width="0.15">DVC</text>
<text transform="translate(34.40,1168.00) scale(0.9606,1)" font-size="12.145" font-weight="bold" fill="#00008b" stroke="#00008b" stroke-width="0.15">MAP</text>
<text transform="translate(34.40,1187.00) scale(0.9606,1)" font-size="12.145" font-weight="bold" fill="#00008b" stroke="#00008b" stroke-width="0.15">NAV</text>
<text transform="translate(34.40,1206.00) scale(0.9606,1)" font-size="12.145" font-weight="bold" fill="#00008b" stroke="#00008b" stroke-width="0.15">PATH</text>
<text transform="translate(34.40,1225.00) scale(0.9606,1)" font-size="12.145" font-weight="bold" fill="#00008b" stroke="#00008b" stroke-width="0.15">REC</text>
<text transform="translate(34.40,1243.00) scale(0.9606,1)" font-size="12.145" font-weight="bold" fill="#00008b" stroke="#00008b" stroke-width="0.15">PLAY</text>
<text transform="translate(34.40,1262.00) scale(0.9606,1)" font-size="12.145" font-weight="bold" fill="#00008b" stroke="#00008b" stroke-width="0.15">SEC</text>
<text transform="translate(34.40,1281.00) scale(0.9606,1)" font-size="12.145" font-weight="bold" fill="#00008b" stroke="#00008b" stroke-width="0.15">STM</text>
<text transform="translate(34.40,1300.00) scale(0.9606,1)" font-size="12.145" font-weight="bold" fill="#00008b" stroke="#00008b" stroke-width="0.15">TRSL</text>
<text transform="translate(34.40,1319.00) scale(0.9606,1)" font-size="12.145" font-weight="bold" fill="#00008b" stroke="#00008b" stroke-width="0.15">VBS</text>
<text transform="translate(13.40,1339.00) scale(0.9606,1)" font-size="12.145" font-weight="bold" fill="#000000" stroke="#000000" stroke-width="0.15">Software Development: Evelyn Berezin Team</text>
<text transform="translate(34.40,1357.00) scale(0.9606,1)" font-size="12.145" font-weight="bold" fill="#00008b" stroke="#00008b" stroke-width="0.15">CHAT</text>
<text transform="translate(34.40,1376.00) scale(0.9606,1)" font-size="12.145" font-weight="bold" fill="#00008b" stroke="#00008b" stroke-width="0.15">IMSG</text>
<text transform="translate(34.40,1395.00) scale(0.9606,1)" font-size="12.145" font-weight="bold" fill="#00008b" stroke="#00008b" stroke-width="0.15">CRPT</text>
<text transform="translate(34.40,1413.00) scale(0.9606,1)" font-size="12.145" font-weight="bold" fill="#00008b" stroke="#00008b" stroke-width="0.15">MSG</text>
<text transform="translate(34.40,1432.00) scale(0.9606,1)" font-size="12.145" font-weight="bold" fill="#00008b" stroke="#00008b" stroke-width="0.15">TSK</text>
<text transform="translate(34.40,1451.00) scale(0.9606,1)" font-size="12.145" font-weight="bold" fill="#00008b" stroke="#00008b" stroke-width="0.15">WGR</text>
<text transform="translate(34.40,1470.00) scale(0.9606,1)" font-size="12.145" font-weight="bold" fill="#00008b" stroke="#00008b" stroke-width="0.15">ANLS</text>
<text transform="translate(34.40,1489.00) scale(0.9606,1)" font-size="12.145" font-weight="bold" fill="#00008b" stroke="#00008b" stroke-width="0.15">CAL</text>
<text transform="translate(34.40,1508.00) scale(0.9606,1)" font-size="12.145" font-weight="bold" fill="#00008b" stroke="#00008b" stroke-width="0.15">MAIL</text>
<text transform="translate(34.40,1527.00) scale(0.9606,1)" font-size="12.145" font-weight="bold" fill="#00008b" stroke="#00008b" stroke-width="0.15">PLAN</text>
<text transform="translate(34.40,1546.00) scale(0.9606,1)" font-size="12.145" font-weight="bold" fill="#00008b" stroke="#00008b" stroke-width="0.15">WIKI</text>
<text transform="translate(13.40,1566.00) scale(0.9606,1)" font-size="12.145" font-weight="bold" fill="#000000" stroke="#000000" stroke-width="0.15">Software Development: Barbara Askins Team</text>
<text transform="translate(34.40,1583.00) scale(0.9606,1)" font-size="12.145" font-weight="bold" fill="#00008b" stroke="#00008b" stroke-width="0.15">TESS</text>
<text transform="translate(34.40,1602.00) scale(0.9606,1)" font-size="12.145" font-weight="bold" fill="#00008b" stroke="#00008b" stroke-width="0.15">CVC</text>
<text transform="translate(34.40,1621.00) scale(0.9606,1)" font-size="12.145" font-weight="bold" fill="#00008b" stroke="#00008b" stroke-width="0.15">FA</text>
<text transform="translate(34.40,1640.00) scale(0.9606,1)" font-size="12.145" font-weight="bold" fill="#00008b" stroke="#00008b" stroke-width="0.15">CAC</text>
<text transform="translate(34.40,1659.00) scale(0.9606,1)" font-size="12.145" font-weight="bold" fill="#00008b" stroke="#00008b" stroke-width="0.15">VM</text>
<text transform="translate(13.40,1679.00) scale(0.9606,1)" font-size="12.145" font-weight="bold" fill="#000000" stroke="#000000" stroke-width="0.15">Networking: Margaret Hamilton Team</text>
<text transform="translate(34.40,1697.00) scale(0.9606,1)" font-size="12.145" font-weight="bold" fill="#00008b" stroke="#00008b" stroke-width="0.15">Mentorship</text>
<text transform="translate(34.40,1716.00) scale(0.9606,1)" font-size="12.145" font-weight="bold" fill="#00008b" stroke="#00008b" stroke-width="0.15">Updates, PR</text>
<text transform="translate(34.40,1735.00) scale(0.9606,1)" font-size="12.145" font-weight="bold" fill="#00008b" stroke="#00008b" stroke-width="0.15">Investors</text>
<text transform="translate(13.40,1754.00) scale(0.9606,1)" font-size="12.145" font-weight="bold" fill="#000000" stroke="#000000" stroke-width="0.15">Customer &amp; Business Development: Barbara Liskov Team</text>
<text transform="translate(34.40,1772.00) scale(0.9606,1)" font-size="12.145" font-weight="bold" fill="#00008b" stroke="#00008b" stroke-width="0.15">DoD programs research</text>
<text transform="translate(34.40,1791.00) scale(0.9606,1)" font-size="12.145" font-weight="bold" fill="#00008b" stroke="#00008b" stroke-width="0.15">Collaboration research</text>
<text transform="translate(34.40,1810.00) scale(0.9606,1)" font-size="12.145" font-weight="bold" fill="#00008b" stroke="#00008b" stroke-width="0.15">Proving ground testing</text>
<text transform="translate(34.40,1829.00) scale(0.9606,1)" font-size="12.145" font-weight="bold" fill="#00008b" stroke="#00008b" stroke-width="0.15">Pilot programms</text>
<text transform="translate(137.20,1847.00) scale(0.9606,1)" font-size="12.145" font-weight="bold" fill="#ff0000" stroke="#ff0000" stroke-width="0.15">Pre–Seed</text>
<text transform="translate(346.40,1847.00) scale(0.9606,1)" font-size="12.145" font-weight="bold" fill="#ff0000" stroke="#ff0000" stroke-width="0.15">Seed</text>
<text transform="translate(519.00,1847.00) scale(0.9606,1)" font-size="12.145" font-weight="bold" fill="#ff0000" stroke="#ff0000" stroke-width="0.15">round A</text>
<text transform="translate(895.00,1847.00) scale(0.9606,1)" font-size="12.145" font-weight="bold" fill="#ff0000" stroke="#ff0000" stroke-width="0.15">round B</text>
<text transform="translate(218.60,1866.00) scale(0.9606,1)" font-size="12.145" font-weight="bold" fill="#0068c8" stroke="#0068c8" stroke-width="0.15">MVP Alpha</text>
<polyline points="289.60,1857.60 294.60,1861.70 289.60,1865.80" fill="none" stroke="#0068c8" stroke-width="1.4"/>
<text transform="translate(313.60,1866.00) scale(0.9606,1)" font-size="12.145" font-weight="bold" fill="#0068c8" stroke="#0068c8" stroke-width="0.15">MVP Beta</text>
<polyline points="377.60,1857.60 382.60,1861.70 377.60,1865.80" fill="none" stroke="#0068c8" stroke-width="1.4"/>
<text transform="translate(453.60,1866.00) scale(0.9606,1)" font-size="12.145" font-weight="bold" fill="#0068c8" stroke="#0068c8" stroke-width="0.15">MMP Gamma</text>
<polyline points="524.60,1857.60 529.60,1861.70 524.60,1865.80" fill="none" stroke="#0068c8" stroke-width="1.4"/>
<text transform="translate(541.60,1866.00) scale(0.9606,1)" font-size="12.145" font-weight="bold" fill="#0068c8" stroke="#0068c8" stroke-width="0.15">Delta</text>
<polyline points="584.60,1857.60 589.60,1861.70 584.60,1865.80" fill="none" stroke="#0068c8" stroke-width="1.4"/>
<rect x="590" y="15" width="1" height="1863.5" fill="#90e090"/>
<rect x="10" y="11" width="1" height="1876" fill="#000"/>
<rect x="10" y="1880" width="941" height="1.2" fill="#000"/>
<rect x="25" y="1880" width="1" height="3" fill="#000"/>
<rect x="41" y="1880" width="1" height="3" fill="#000"/>
<rect x="57" y="1880" width="1" height="3" fill="#000"/>
<rect x="72" y="1880" width="1" height="3" fill="#000"/>
<rect x="88" y="1880" width="1" height="3" fill="#000"/>
<rect x="104" y="1880" width="1" height="3" fill="#000"/>
<rect x="119" y="1880" width="1" height="3" fill="#000"/>
<rect x="135" y="1880" width="1" height="3" fill="#000"/>
<rect x="151" y="1880" width="1" height="3" fill="#000"/>
<rect x="166" y="1880" width="1" height="3" fill="#000"/>
<rect x="182" y="1880" width="1" height="3" fill="#000"/>
<rect x="198" y="1880" width="1" height="7" fill="#000"/>
<rect x="213" y="1880" width="1" height="3" fill="#000"/>
<rect x="229" y="1880" width="1" height="3" fill="#000"/>
<rect x="245" y="1880" width="1" height="3" fill="#000"/>
<rect x="260" y="1880" width="1" height="3" fill="#000"/>
<rect x="276" y="1880" width="1" height="3" fill="#000"/>
<rect x="292" y="1880" width="1" height="3" fill="#000"/>
<rect x="307" y="1880" width="1" height="3" fill="#000"/>
<rect x="323" y="1880" width="1" height="3" fill="#000"/>
<rect x="339" y="1880" width="1" height="3" fill="#000"/>
<rect x="354" y="1880" width="1" height="3" fill="#000"/>
<rect x="370" y="1880" width="1" height="3" fill="#000"/>
<rect x="386" y="1880" width="1" height="7" fill="#000"/>
<rect x="401" y="1880" width="1" height="3" fill="#000"/>
<rect x="417" y="1880" width="1" height="3" fill="#000"/>
<rect x="433" y="1880" width="1" height="3" fill="#000"/>
<rect x="448" y="1880" width="1" height="3" fill="#000"/>
<rect x="464" y="1880" width="1" height="3" fill="#000"/>
<rect x="480" y="1880" width="1" height="3" fill="#000"/>
<rect x="495" y="1880" width="1" height="3" fill="#000"/>
<rect x="511" y="1880" width="1" height="3" fill="#000"/>
<rect x="527" y="1880" width="1" height="3" fill="#000"/>
<rect x="543" y="1880" width="1" height="3" fill="#000"/>
<rect x="558" y="1880" width="1" height="3" fill="#000"/>
<rect x="574" y="1880" width="1" height="7" fill="#000"/>
<rect x="590" y="1880" width="1" height="3" fill="#000"/>
<rect x="605" y="1880" width="1" height="3" fill="#000"/>
<rect x="621" y="1880" width="1" height="3" fill="#000"/>
<rect x="637" y="1880" width="1" height="3" fill="#000"/>
<rect x="652" y="1880" width="1" height="3" fill="#000"/>
<rect x="668" y="1880" width="1" height="3" fill="#000"/>
<rect x="684" y="1880" width="1" height="3" fill="#000"/>
<rect x="699" y="1880" width="1" height="3" fill="#000"/>
<rect x="715" y="1880" width="1" height="3" fill="#000"/>
<rect x="731" y="1880" width="1" height="3" fill="#000"/>
<rect x="746" y="1880" width="1" height="3" fill="#000"/>
<rect x="762" y="1880" width="1" height="7" fill="#000"/>
<rect x="778" y="1880" width="1" height="3" fill="#000"/>
<rect x="793" y="1880" width="1" height="3" fill="#000"/>
<rect x="809" y="1880" width="1" height="3" fill="#000"/>
<rect x="825" y="1880" width="1" height="3" fill="#000"/>
<rect x="840" y="1880" width="1" height="3" fill="#000"/>
<rect x="856" y="1880" width="1" height="3" fill="#000"/>
<rect x="872" y="1880" width="1" height="3" fill="#000"/>
<rect x="887" y="1880" width="1" height="3" fill="#000"/>
<rect x="903" y="1880" width="1" height="3" fill="#000"/>
<rect x="919" y="1880" width="1" height="3" fill="#000"/>
<rect x="934" y="1880" width="1" height="3" fill="#000"/>
<rect x="950" y="1880" width="1" height="7" fill="#000"/>
<text transform="translate(11.00,1900.00) scale(0.8333,1)" font-size="12" text-anchor="middle" fill="#000" stroke="#000" stroke-width="0.2">2O23</text>
<text transform="translate(199.00,1900.00) scale(0.8333,1)" font-size="12" text-anchor="middle" fill="#000" stroke="#000" stroke-width="0.2">2O24</text>
<text transform="translate(387.00,1900.00) scale(0.8333,1)" font-size="12" text-anchor="middle" fill="#000" stroke="#000" stroke-width="0.2">2O25</text>
<text transform="translate(575.00,1900.00) scale(0.8333,1)" font-size="12" text-anchor="middle" fill="#000" stroke="#000" stroke-width="0.2">2O26</text>
<text transform="translate(763.00,1900.00) scale(0.8333,1)" font-size="12" text-anchor="middle" fill="#000" stroke="#000" stroke-width="0.2">2O27</text>
<text transform="translate(951.00,1900.00) scale(0.8333,1)" font-size="12" text-anchor="middle" fill="#000" stroke="#000" stroke-width="0.2">2O28</text>
<text x="484.5" y="14.6" font-size="15" text-anchor="middle" fill="#000" stroke="#000" stroke-width="0.35">Project Development Roadmap</text>
<rect x="7" y="1922" width="13.5" height="13" fill="#e6e600"/>
<text transform="translate(30.00,1935.00) scale(0.8333,1)" font-size="12" text-anchor="start" fill="#000" stroke="#000" stroke-width="0.2">TRL–1</text>
<rect x="7" y="1939" width="13.5" height="13" fill="#ff9a33"/>
<text transform="translate(30.00,1952.00) scale(0.8333,1)" font-size="12" text-anchor="start" fill="#000" stroke="#000" stroke-width="0.2">TRL–2</text>
<rect x="7" y="1956" width="13.5" height="13" fill="#0077cc"/>
<text transform="translate(30.00,1969.00) scale(0.8333,1)" font-size="12" text-anchor="start" fill="#000" stroke="#000" stroke-width="0.2">TRL–3</text>
<rect x="7" y="1973" width="13.5" height="13" fill="#9999ff"/>
<text transform="translate(30.00,1986.00) scale(0.8333,1)" font-size="12" text-anchor="start" fill="#000" stroke="#000" stroke-width="0.2">TRL–4</text>
<rect x="240" y="1922" width="13.5" height="13" fill="#ff0000"/>
<text transform="translate(262.30,1935.00) scale(0.8333,1)" font-size="12" text-anchor="start" fill="#000" stroke="#000" stroke-width="0.2">TRL–5</text>
<rect x="240" y="1939" width="13.5" height="13" fill="#a64ca6"/>
<text transform="translate(262.30,1952.00) scale(0.8333,1)" font-size="12" text-anchor="start" fill="#000" stroke="#000" stroke-width="0.2">TRL–6</text>
<rect x="240" y="1956" width="13.5" height="13" fill="#cbafcb"/>
<text transform="translate(262.30,1969.00) scale(0.8333,1)" font-size="12" text-anchor="start" fill="#000" stroke="#000" stroke-width="0.2">TRL–7</text>
<rect x="240" y="1973" width="13.5" height="13" fill="#b04c4c"/>
<text transform="translate(262.30,1986.00) scale(0.8333,1)" font-size="12" text-anchor="start" fill="#000" stroke="#000" stroke-width="0.2">TRL–8</text>
<rect x="473" y="1922" width="13.5" height="13" fill="#0000ff"/>
<text transform="translate(495.00,1935.00) scale(0.8333,1)" font-size="12" text-anchor="start" fill="#000" stroke="#000" stroke-width="0.2">TRL–9</text>
<rect x="473" y="1939" width="13.5" height="13" fill="#00aa00"/>
<text transform="translate(495.00,1952.00) scale(0.8333,1)" font-size="12" text-anchor="start" fill="#000" stroke="#000" stroke-width="0.2">Pilot</text>
<rect x="473" y="1956" width="13.5" height="13" fill="#aec8ff"/>
<text transform="translate(495.00,1969.00) scale(0.8333,1)" font-size="12" text-anchor="start" fill="#000" stroke="#000" stroke-width="0.2">Process</text>
<rect x="473" y="1973" width="13.5" height="13" fill="#99cc99"/>
<text transform="translate(495.00,1986.00) scale(0.8333,1)" font-size="12" text-anchor="start" fill="#000" stroke="#000" stroke-width="0.2">Event</text>
<rect x="705" y="1922" width="13.5" height="13" fill="#ff7f00"/>
<text transform="translate(727.50,1935.00) scale(0.8333,1)" font-size="12" text-anchor="start" fill="#000" stroke="#000" stroke-width="0.2">Invention</text>
</svg></body></html>
